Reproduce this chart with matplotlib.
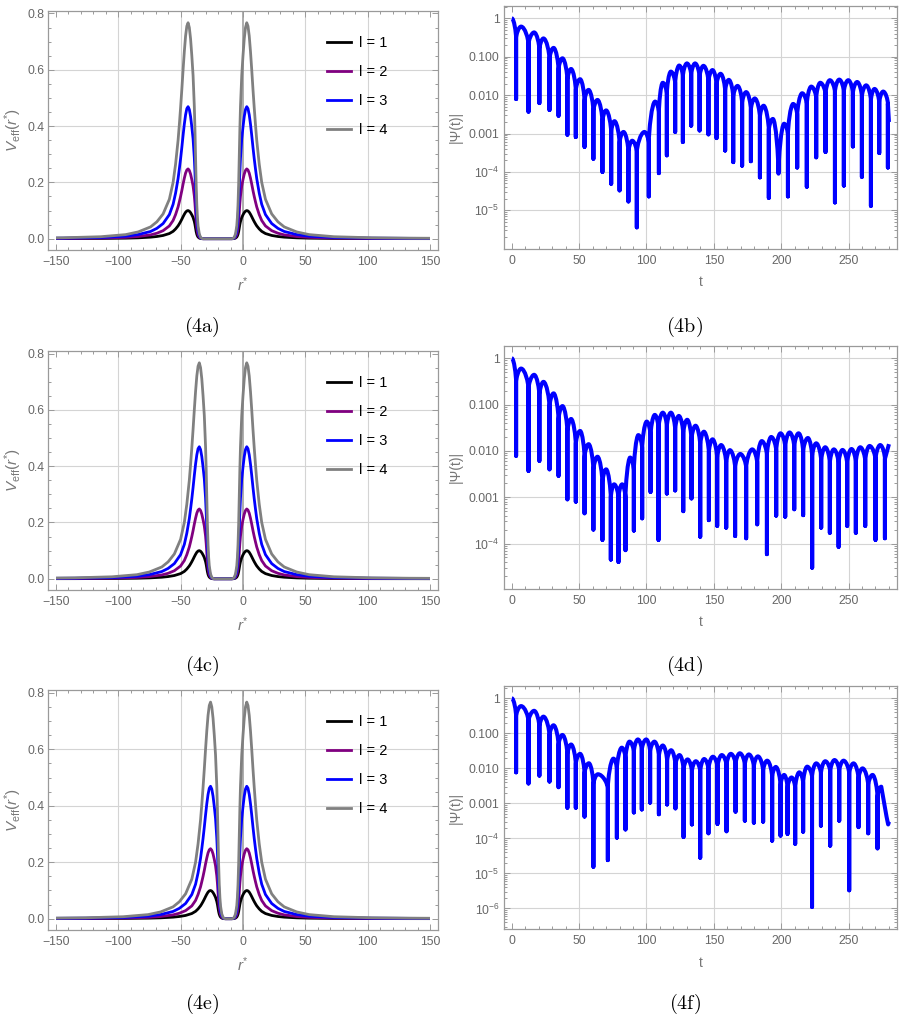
import matplotlib
matplotlib.use("Agg")
import matplotlib.pyplot as plt
from matplotlib.ticker import MultipleLocator, LogLocator, NullFormatter
from matplotlib.patches import Rectangle, PathPatch
from matplotlib.path import Path

plt.rcParams['font.family'] = ['Liberation Sans', 'DejaVu Sans']
plt.rcParams['mathtext.fontset'] = 'custom'
plt.rcParams['mathtext.rm'] = 'Liberation Sans'
plt.rcParams['mathtext.it'] = 'Liberation Sans:italic'

# ---------------- effective potential (left column) ----------------
legend_labels = ['l = 1', 'l = 2', 'l = 3', 'l = 4']
line_colors = ['#000000', '#800080', '#0000ff', '#808080']
# peak positions in r* for (4a), (4c), (4e)
left_peaks = [-44, -35, -26]
right_peak = 3

# distance from a peak, outward (long tail) and towards the throat (steep side)
d_outer = [0, 1, 2, 3, 4, 5, 6, 7, 8, 10, 12, 15, 20, 25, 30, 40, 50, 70, 100, 130, 160]
V1_outer = [0.100, 0.0985, 0.094, 0.0867, 0.0782, 0.0691, 0.0606, 0.0528, 0.0456, 0.0346, 0.0261,
            0.0183, 0.0115, 0.0078, 0.0055, 0.0031, 0.0019, 0.0009, 0.0004, 0.00025, 0.00017]
V2_outer = [0.248, 0.244, 0.233, 0.215, 0.194, 0.171, 0.150, 0.131, 0.113, 0.0857, 0.0647,
            0.0453, 0.0285, 0.0194, 0.0136, 0.0078, 0.0047, 0.0023, 0.0011, 0.0006, 0.0004]
V3_outer = [0.469, 0.462, 0.440, 0.407, 0.367, 0.324, 0.284, 0.248, 0.214, 0.162, 0.122,
            0.0856, 0.0538, 0.0367, 0.0257, 0.0147, 0.0089, 0.0043, 0.0020, 0.0012, 0.0008]
V4_outer = [0.767, 0.755, 0.72, 0.665, 0.60, 0.53, 0.465, 0.405, 0.35, 0.265, 0.20,
            0.14, 0.088, 0.060, 0.042, 0.024, 0.0145, 0.007, 0.0033, 0.0019, 0.0013]

d_inner = [0, 1, 2, 3, 4, 5, 5.5, 6, 6.5, 7, 7.5, 8, 9, 10, 11, 12]
V1_inner = [0.100, 0.0978, 0.0926, 0.0848, 0.0756, 0.0613, 0.0509, 0.0378, 0.0248, 0.0156,
            0.0098, 0.0059, 0.0022, 0.0007, 0.0001, 0.0]
V2_inner = [0.248, 0.2425, 0.2295, 0.210, 0.1875, 0.152, 0.126, 0.0938, 0.0614, 0.0388,
            0.0242, 0.0145, 0.0055, 0.0016, 0.0003, 0.0]
V3_inner = [0.469, 0.459, 0.434, 0.397, 0.355, 0.287, 0.238, 0.177, 0.116, 0.0734,
            0.0459, 0.0275, 0.0104, 0.0031, 0.0006, 0.0]
V4_inner = [0.767, 0.75, 0.71, 0.65, 0.58, 0.47, 0.39, 0.29, 0.19, 0.12,
            0.075, 0.045, 0.017, 0.005, 0.001, 0.0]

V_outer = [V1_outer, V2_outer, V3_outer, V4_outer]
V_inner = [V1_inner, V2_inner, V3_inner, V4_inner]

# ---------------- time-domain profiles (right column) ----------------
# (4b)
tp_b = [0, 6.9, 16.6, 23.5, 31.0, 37.6, 44.0, 50.7, 57.0, 63.6, 70.0, 76.2, 82.9, 89.4, 98.5,
        106.4, 112.1, 118.1, 124.3, 130.0, 136.1, 142.3, 149.0, 155.0, 161.1, 167.6, 174.0,
        180.4, 186.9, 193.8, 202.2, 208.9, 215.6, 222.3, 229.0, 236.1, 243.1, 249.8, 256.4,
        263.1, 269.3, 275.7]
vp_b = [1.0, 0.61, 0.43, 0.30, 0.17, 0.091, 0.048, 0.026, 0.0137, 0.0075, 0.0040, 0.0021,
        0.0011, 0.00065, 0.0011, 0.0068, 0.021, 0.041, 0.059, 0.067, 0.067, 0.058, 0.045,
        0.036, 0.025, 0.0174, 0.012, 0.0082, 0.0053, 0.0024, 0.0018, 0.0059, 0.0112, 0.0167,
        0.021, 0.0245, 0.0254, 0.0245, 0.022, 0.018, 0.0145, 0.0124]
td_b = [3.2, 12.4, 20.5, 28.0, 34.7, 41.3, 47.5, 54.0, 60.6, 67.3, 73.8, 80.0, 86.6, 92.8,
        101.7, 109.2, 115.1, 121.3, 127.0, 133.2, 139.4, 146.0, 152.0, 158.4, 164.4, 171.0,
        177.5, 184.2, 190.8, 198.0, 205.0, 211.9, 219.0, 226.0, 232.9, 239.9, 246.5, 253.2,
        259.9, 266.6, 272.8, 279.2]
vd_b = [0.0079, 0.0037, 0.0062, 0.0041, 0.0029, 0.00093, 0.00081, 0.00045, 0.00022, 1.0e-4,
        4.9e-5, 3.3e-5, 1.7e-5, 3.6e-6, 2.3e-5, 9.3e-5, 2.7e-4, 0.0011, 6.0e-4, 0.0016, 0.0012,
        0.00095, 7.6e-4, 3.6e-4, 1.8e-4, 1.45e-4, 1.9e-4, 7.2e-5, 2.1e-5, 9.0e-5, 2.3e-5,
        1.3e-4, 4.1e-5, 2.4e-4, 3.3e-4, 1.6e-5, 4.4e-5, 4.6e-4, 7.4e-5, 1.3e-5, 3.1e-4, 1.3e-4]
# level where neighbouring arches meet the spike
vk_b = [0.30, 0.21, 0.15, 0.085, 0.045, 0.024, 0.013, 0.0068, 0.0037, 0.002, 0.00105,
        0.00055, 0.00032, 0.00032, 0.00055, 0.0034, 0.0105, 0.02, 0.03, 0.033, 0.029, 0.022,
        0.018, 0.0125, 0.0087, 0.006, 0.0041, 0.0026, 0.0012, 9.0e-5, 0.0009, 0.003, 0.0056,
        0.0083, 0.0105, 0.012, 0.012, 0.011, 0.009, 0.0072, 0.0062, 0.006]
te_b = [280.0]
ve_b = [0.002]

# (4d)
tp_d = [0, 6.9, 16.6, 23.5, 31.0, 37.6, 44.0, 50.7, 57.0, 63.6, 70.0, 76.0, 81.9, 87.9, 94.0,
        100.2, 106.2, 112.1, 118.1, 124.0, 130.2, 136.4, 142.6, 149.0, 155.4, 161.9, 169.6,
        178.5, 185.6, 192.6, 199.5, 206.2, 212.9, 219.8, 226.0, 232.7, 239.1, 245.5, 252.2,
        258.7, 265.6, 273.5]
vp_d = [1.0, 0.60, 0.44, 0.31, 0.175, 0.093, 0.049, 0.027, 0.014, 0.0075, 0.004, 0.0019,
        0.0019, 0.0072, 0.022, 0.043, 0.060, 0.067, 0.067, 0.057, 0.047, 0.035, 0.026, 0.0178,
        0.0134, 0.0104, 0.0086, 0.0108, 0.0163, 0.020, 0.024, 0.025, 0.024, 0.019, 0.0146,
        0.012, 0.0108, 0.0105, 0.011, 0.012, 0.0128, 0.0134]
td_d = [3.2, 12.4, 20.5, 28.0, 34.7, 41.3, 47.5, 54.0, 60.6, 67.3, 73.5, 79.2, 84.4, 90.6,
        96.8, 103.0, 108.9, 115.1, 121.3, 127.3, 133.4, 139.9, 146.3, 152.5, 159.2, 165.8,
        174.0, 182.2, 189.4, 196.3, 203.0, 209.7, 216.3, 223.0, 229.7, 236.1, 242.6, 249.0,
        255.4, 262.4, 270.0, 277.0]
vd_d = [0.0078, 0.0037, 0.0061, 0.004, 0.0029, 0.0009, 0.0008, 0.00045, 0.0002, 1.2e-4,
        4.5e-5, 4.0e-5, 7.2e-5, 1.9e-4, 3.5e-4, 0.0013, 1.2e-4, 0.0012, 0.0014, 5.0e-4, 9.4e-4,
        1.4e-4, 3.2e-4, 2.4e-4, 2.2e-4, 1.45e-4, 1.3e-4, 2.6e-4, 5.9e-5, 4.0e-4, 3.8e-4,
        5.5e-4, 4.1e-4, 3.0e-5, 2.2e-4, 1.7e-4, 8.5e-5, 2.4e-4, 1.7e-4, 2.4e-4, 1.2e-4, 1.3e-4]
vk_d = [0.30, 0.22, 0.155, 0.088, 0.046, 0.025, 0.0135, 0.007, 0.0037, 0.002, 0.00095,
        0.00095, 0.00095, 0.0036, 0.011, 0.021, 0.03, 0.033, 0.028, 0.023, 0.017, 0.013, 0.009,
        0.0067, 0.0052, 0.0043, 0.0043, 0.0054, 0.008, 0.01, 0.012, 0.012, 0.0095, 0.0073,
        0.006, 0.0054, 0.0052, 0.0052, 0.0055, 0.006, 0.0064, 0.0067]
te_d = [280.0]
ve_d = [0.014]

# (4f)
tp_f = [0, 6.9, 16.6, 23.5, 31.0, 37.6, 44.0, 50.7, 57.2, 63.9, 75.5, 81.7, 87.4, 93.6, 99.8,
        105.9, 112.1, 118.3, 124.5, 130.5, 136.6, 142.8, 149.3, 155.9, 162.6, 169.3, 176.0,
        182.7, 189.6, 196.0, 202.2, 207.7, 213.4, 219.3, 226.0, 232.7, 239.6, 246.3, 253.7,
        260.4, 267.8, 274.3]
vp_f = [1.0, 0.60, 0.44, 0.30, 0.17, 0.09, 0.048, 0.026, 0.014, 0.0068, 0.019, 0.039, 0.058,
        0.067, 0.067, 0.058, 0.045, 0.033, 0.024, 0.018, 0.016, 0.0185, 0.0215, 0.024, 0.026,
        0.027, 0.025, 0.022, 0.0166, 0.011, 0.0065, 0.0055, 0.0077, 0.0112, 0.0139, 0.016,
        0.0173, 0.0166, 0.0139, 0.010, 0.0065, 0.003]
td_f = [3.2, 12.4, 20.5, 28.0, 34.7, 41.3, 47.5, 54.0, 60.6, 71.3, 78.0, 84.4, 90.6, 96.5,
        102.7, 109.2, 115.3, 121.5, 127.5, 133.7, 139.9, 146.0, 152.7, 159.4, 166.1, 173.0,
        179.7, 186.6, 193.3, 199.5, 204.7, 210.4, 216.3, 222.9, 229.5, 236.4, 243.1, 250.5,
        257.4, 264.6, 271.5]
vd_f = [0.0077, 0.0037, 0.0062, 0.0042, 0.0029, 7.5e-4, 7.5e-4, 4.2e-4, 1.55e-5, 2.4e-5,
        1.05e-4, 1.8e-4, 5.5e-4, 6.7e-4, 0.00105, 4.9e-4, 9.3e-4, 7.2e-4, 1.1e-4, 2.5e-4,
        2.8e-5, 1.4e-4, 2.6e-4, 1.6e-4, 5.8e-4, 3.2e-4, 2.8e-4, 3.0e-4, 8.6e-5, 1.2e-4,
        1.35e-4, 7.0e-5, 1.55e-4, 1.1e-6, 2.3e-4, 6.2e-5, 3.2e-4, 3.3e-6, 2.1e-4, 1.4e-4, 5.2e-5]
vk_f = [0.30, 0.22, 0.15, 0.085, 0.045, 0.024, 0.013, 0.007, 0.0034, 0.0027, 0.0095, 0.019,
        0.029, 0.033, 0.029, 0.022, 0.016, 0.012, 0.009, 0.008, 0.008, 0.0092, 0.0107, 0.012,
        0.013, 0.0125, 0.011, 0.0083, 0.0055, 0.0032, 0.0027, 0.0027, 0.0038, 0.0056, 0.007,
        0.008, 0.0083, 0.007, 0.005, 0.0032, 0.0015]
te_f = [278.2, 279.4, 280.0]
ve_f = [4.2e-4, 2.5e-4, 3.0e-4]

labels_b = ['1', '0.100', '0.010', '0.001', '$10^{-4}$', '$10^{-5}$']
labels_d = ['1', '0.100', '0.010', '0.001', '$10^{-4}$']
labels_f = ['1', '0.100', '0.010', '0.001', '$10^{-4}$', '$10^{-5}$', '$10^{-6}$']

FRAME = '#9a9a9a'
TICKLAB = '#676767'
GRID = '#d4d4d4'
H_HANDLE = 0.5   # bezier handle along t at a peak
V_HANDLE = 0.3   # bezier handle along log(v) at a knee


def potential_curve(c_left, c_right, vo, vi):
    r = [c_left - d for d in d_outer[::-1]] + [c_left + d for d in d_inner[1:]]
    r += [c_right - d for d in d_inner[::-1]] + [c_right + d for d in d_outer[1:]]
    v = vo[::-1] + vi[1:] + vi[::-1] + vo[1:]
    return r, v


def ringdown_path(tp, vp, td, vd, vk, te, ve):
    # arches between the read peaks and knees are drawn as bezier curves,
    # each dip is a vertical spike from the knee down to the read minimum
    verts = [(tp[0], vp[0])]
    codes = [Path.MOVETO]

    def down(t0, v0, t1, v1):
        verts.extend([(t0 + H_HANDLE * (t1 - t0), v0),
                      (t1, v1 ** (1 - V_HANDLE) * v0 ** V_HANDLE), (t1, v1)])
        codes.extend([Path.CURVE4] * 3)

    def up(t0, v0, t1, v1):
        verts.extend([(t0, v0 ** (1 - V_HANDLE) * v1 ** V_HANDLE),
                      (t1 - H_HANDLE * (t1 - t0), v1), (t1, v1)])
        codes.extend([Path.CURVE4] * 3)

    for i in range(len(td)):
        down(tp[i], vp[i], td[i], vk[i])
        verts.extend([(td[i], vd[i]), (td[i], vk[i])])
        codes.extend([Path.LINETO, Path.LINETO])
        if i + 1 < len(tp):
            up(td[i], vk[i], tp[i + 1], vp[i + 1])
    for t, v in zip(te, ve):
        verts.append((t, v))
        codes.append(Path.LINETO)
    return Path(verts, codes)


def frame_style(ax):
    for s in ax.spines.values():
        s.set_color(FRAME)
        s.set_linewidth(0.9)
    ax.tick_params(which='both', direction='in', top=True, right=True,
                   color=FRAME, labelcolor=TICKLAB, labelsize=8.8, width=0.7)
    ax.tick_params(which='major', length=4.5)
    ax.tick_params(which='minor', length=2.3)


fig = plt.figure(figsize=(9.04, 10.24), dpi=100)

left_boxes = [[0.0534, 0.7559, 0.4308, 0.2337],
              [0.0534, 0.4238, 0.4308, 0.2337],
              [0.0534, 0.0918, 0.4308, 0.2344]]
right_boxes = [[0.5572, 0.7571, 0.4351, 0.2370],
               [0.5572, 0.4251, 0.4351, 0.2370],
               [0.5572, 0.0928, 0.4351, 0.2373]]
left_tags = ['(4a)', '(4c)', '(4e)']
right_tags = ['(4b)', '(4d)', '(4f)']
tag_y = [1 - 327 / 1024, 1 - 666 / 1024, 1 - 1004 / 1024]

for k, box in enumerate(left_boxes):
    ax = fig.add_axes(box)
    frame_style(ax)
    for x in [-100, -50, 50, 100]:
        ax.axvline(x, color=GRID, lw=0.8, zorder=0)
    for y in [0.2, 0.4, 0.6]:
        ax.axhline(y, color=GRID, lw=0.8, zorder=0)
    ax.axvline(0, color='#a0a0a0', lw=1.2, zorder=0.5)
    clip = Rectangle((-150, -1), 300, 3, transform=ax.transData)
    for j in range(4):
        r, v = potential_curve(left_peaks[k], right_peak, V_outer[j], V_inner[j])
        ln, = ax.plot(r, v, color=line_colors[j], lw=2.0, label=legend_labels[j],
                      solid_joinstyle='round')
        ln.set_clip_path(clip)
    ax.set_xlim(-156, 156)
    ax.set_ylim(-0.04, 0.81)
    ax.xaxis.set_major_locator(MultipleLocator(50))
    ax.xaxis.set_minor_locator(MultipleLocator(10))
    ax.yaxis.set_major_locator(MultipleLocator(0.2))
    ax.yaxis.set_minor_locator(MultipleLocator(0.05))
    ax.yaxis.set_major_formatter(plt.FormatStrFormatter('%.1f'))
    ax.tick_params(axis='x', pad=4.5)
    ax.tick_params(axis='y', pad=2.5)
    ax.set_xlabel('$r^{*}$', color='#777777', fontsize=11, labelpad=5)
    ax.set_ylabel(r'$V_{\mathrm{eff}}(r^{*})$', color='#777777', fontsize=11, labelpad=3)
    ax.legend(loc='upper left', bbox_to_anchor=(0.716, 0.894), frameon=False,
              fontsize=10.5, handlelength=1.65, handletextpad=0.55, labelspacing=1.02,
              borderpad=0, borderaxespad=0)
    fig.text(box[0] + box[2] * 0.395, tag_y[k], r'$\mathrm{' + left_tags[k] + '}$',
             math_fontfamily='cm', fontsize=14.5, ha='center', va='center')

ring_data = [(tp_b, vp_b, td_b, vd_b, vk_b, te_b, ve_b),
             (tp_d, vp_d, td_d, vd_d, vk_d, te_d, ve_d),
             (tp_f, vp_f, td_f, vd_f, vk_f, te_f, ve_f)]
ring_ylims = [(1.0e-6, 2.09), (1.06e-5, 1.84), (2.6e-7, 2.25)]
ring_labels = [labels_b, labels_d, labels_f]

for k, box in enumerate(right_boxes):
    ax = fig.add_axes(box)
    frame_style(ax)
    ax.set_yscale('log')
    decades = [10.0 ** (-i) for i in range(len(ring_labels[k]))]
    for x in [50, 100, 150, 200, 250]:
        ax.axvline(x, color=GRID, lw=0.8, zorder=0)
    for y in decades:
        ax.axhline(y, color=GRID, lw=0.8, zorder=0)
    patch = PathPatch(ringdown_path(*ring_data[k]), fill=False, edgecolor='#0000ff',
                      lw=2.9, joinstyle='round', capstyle='butt')
    ax.add_patch(patch)
    ax.set_xlim(-6, 286)
    ax.set_ylim(*ring_ylims[k])
    ax.xaxis.set_major_locator(MultipleLocator(50))
    ax.xaxis.set_minor_locator(MultipleLocator(10))
    ax.set_yticks(decades)
    ax.set_yticklabels(ring_labels[k])
    ax.yaxis.set_minor_locator(LogLocator(base=10, subs=[2, 3, 4, 5, 6, 7, 8, 9], numticks=20))
    ax.yaxis.set_minor_formatter(NullFormatter())
    ax.tick_params(axis='x', pad=4.5)
    ax.tick_params(axis='y', pad=3)
    ax.set_xlabel('t', color='#777777', fontsize=10, labelpad=6)
    ax.set_ylabel('|Ψ(t)|', color='#777777', fontsize=10)
    fig.text(box[0] + box[2] * 0.46, tag_y[k], r'$\mathrm{' + right_tags[k] + '}$',
             math_fontfamily='cm', fontsize=14.5, ha='center', va='center')

fig.savefig('out.png', dpi=100)
